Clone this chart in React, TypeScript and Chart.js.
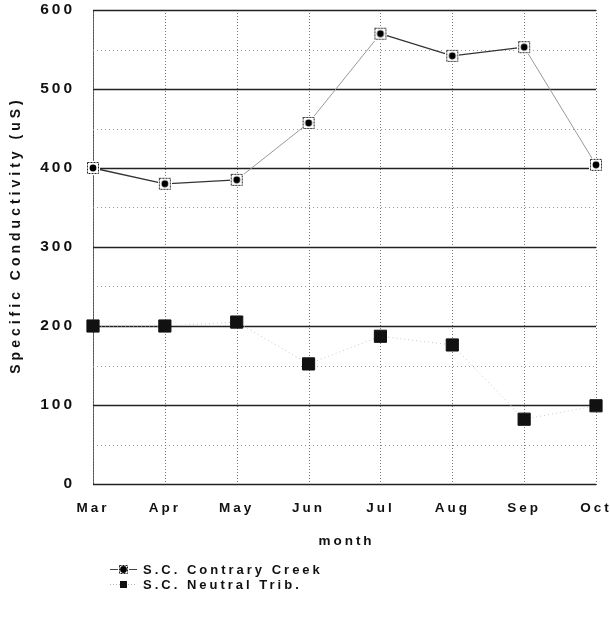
import React, { useEffect, useRef } from "react";
import { Chart, registerables } from "chart.js";

Chart.register(...registerables);

const months = ["Mar", "Apr", "May", "Jun", "Jul", "Aug", "Sep", "Oct"];
const contraryCreek = [400, 380, 385, 457, 570, 542, 553, 404];
const neutralTrib = [200, 200, 205, 152, 187, 176, 82, 99];
const yTicks = [0, 100, 200, 300, 400, 500, 600];
const seriesLabels = ["S.C. Contrary Creek", "S.C. Neutral Trib."];
const xTitle = "month";
const yTitle = "Specific Conductivity (uS)";

const FONT = "'Liberation Sans', Arial, sans-serif";

function makeOpenMarker(size: number): HTMLCanvasElement {
  const c = document.createElement("canvas");
  c.width = size;
  c.height = size;
  const g = c.getContext("2d")!;
  g.fillStyle = "#ffffff";
  g.fillRect(0, 0, size, size);
  g.strokeStyle = "#222";
  g.lineWidth = 1;
  g.setLineDash([2, 1]);
  g.strokeRect(1.5, 1.5, size - 3, size - 3);
  g.setLineDash([]);
  g.fillStyle = "#000";
  g.beginPath();
  g.arc(size / 2, size / 2, 3.4, 0, Math.PI * 2);
  g.fill();
  return c;
}

export default function App() {
  const ref = useRef<HTMLCanvasElement | null>(null);

  useEffect(() => {
    if (!ref.current) return;
    const openMarker = makeOpenMarker(14);
    const smallOpen = makeOpenMarker(11);

    const gridPlugin = {
      id: "customGrid",
      beforeDraw(chart: any) {
        chart.ctx.letterSpacing = "3px";
      },
      beforeDatasetsDraw(chart: any) {
        const ctx = chart.ctx;
        const { left, right, top, bottom } = chart.chartArea;
        const xs = chart.scales.x;
        const ys = chart.scales.y;
        ctx.save();
        ctx.strokeStyle = "#9a9a9a";
        ctx.lineWidth = 1;
        ctx.setLineDash([1, 3]);
        for (let v = 50; v < 600; v += 100) {
          const y = Math.round(ys.getPixelForValue(v)) + 0.5;
          ctx.beginPath();
          ctx.moveTo(left, y);
          ctx.lineTo(right, y);
          ctx.stroke();
        }
        ctx.strokeStyle = "#777";
        ctx.setLineDash([1, 2]);
        for (let i = 0; i < months.length; i++) {
          const x = Math.round(xs.getPixelForValue(i)) + 0.5;
          ctx.beginPath();
          ctx.moveTo(x, top);
          ctx.lineTo(x, bottom);
          ctx.stroke();
        }
        ctx.setLineDash([]);
        ctx.strokeStyle = "#222";
        ctx.lineWidth = 1.6;
        for (const v of yTicks) {
          const y = Math.round(ys.getPixelForValue(v)) + 0.5;
          ctx.beginPath();
          ctx.moveTo(left, y);
          ctx.lineTo(right, y);
          ctx.stroke();
        }
        ctx.restore();
      },
      afterDraw(chart: any) {
        const ctx = chart.ctx;
        const { left, right, top, bottom } = chart.chartArea;
        ctx.save();
        ctx.letterSpacing = "3px";
        ctx.fillStyle = "#111";
        ctx.font = `bold 13.5px ${FONT}`;
        ctx.textAlign = "center";
        ctx.textBaseline = "middle";
        ctx.fillText(xTitle, (left + right) / 2 + 2, 541);
        ctx.save();
        ctx.letterSpacing = "4px";
        ctx.font = `bold 14px ${FONT}`;
        ctx.translate(16, (top + bottom) / 2 - 12);
        ctx.rotate(-Math.PI / 2);
        ctx.fillText(yTitle, 0, 0);
        ctx.restore();
        ctx.textAlign = "left";
        ctx.font = `bold 13px ${FONT}`;
        ctx.fillText(seriesLabels[0], 143, 570);
        ctx.fillText(seriesLabels[1], 143, 585);
        ctx.letterSpacing = "0px";
        ctx.strokeStyle = "#444";
        ctx.lineWidth = 1;
        ctx.beginPath();
        ctx.moveTo(110, 569.5);
        ctx.lineTo(137, 569.5);
        ctx.stroke();
        ctx.drawImage(smallOpen, 118, 564);
        ctx.strokeStyle = "#bbb";
        ctx.setLineDash([1, 2]);
        ctx.beginPath();
        ctx.moveTo(110, 584.5);
        ctx.lineTo(137, 584.5);
        ctx.stroke();
        ctx.setLineDash([]);
        ctx.fillStyle = "#111";
        ctx.fillRect(120, 581, 7, 7);
        ctx.restore();
      },
    };

    const darkSeg = [true, true, false, false, true, true, false];
    const zeroPad = (s: any) => {
      s.paddingLeft = 0;
      s.paddingRight = 0;
      s.paddingTop = 0;
      s.paddingBottom = 0;
    };

    const chart = new Chart(ref.current, {
      type: "line",
      data: {
        labels: months,
        datasets: [
          {
            label: seriesLabels[1],
            data: neutralTrib,
            borderColor: "#c8c8c8",
            borderWidth: 1,
            borderDash: [1, 3],
            pointStyle: "rect",
            pointRadius: 8.6,
            pointBackgroundColor: "#111",
            pointBorderColor: "#111",
            pointBorderWidth: 1,
            tension: 0,
          },
          {
            label: seriesLabels[0],
            data: contraryCreek,
            borderColor: "#333",
            borderWidth: 1.2,
            segment: {
              borderColor: (ctx: any) => (darkSeg[ctx.p0DataIndex] ? "#333" : "#999"),
              borderWidth: (ctx: any) => (darkSeg[ctx.p0DataIndex] ? 1.3 : 1),
            },
            pointStyle: openMarker as any,
            pointRadius: 7,
            tension: 0,
          },
        ],
      },
      options: {
        responsive: false,
        animation: false,
        layout: { padding: { left: 0, top: 10, right: 14, bottom: 0 } },
        plugins: {
          legend: { display: false },
          tooltip: { enabled: false },
        },
        scales: {
          x: {
            type: "category",
            offset: false,
            grid: { display: false, drawTicks: false },
            border: { display: true, color: "#555", width: 1, dash: [1, 2] },
            ticks: {
              color: "#111",
              font: { family: FONT, size: 13.5, weight: "bold" },
              padding: 16,
              maxRotation: 0,
              autoSkip: false,
            },
            afterFit: (s: any) => {
              s.height = 143;
              zeroPad(s);
            },
          },
          y: {
            min: 0,
            max: 600,
            grid: { display: false, drawTicks: false },
            border: { display: true, color: "#555", width: 1, dash: [1, 2] },
            ticks: {
              stepSize: 100,
              color: "#111",
              font: { family: FONT, size: 15.5, weight: "bold" },
              padding: 18,
            },
            afterFit: (s: any) => {
              s.width = 93;
              zeroPad(s);
            },
          },
        },
      },
      plugins: [gridPlugin],
    } as any);

    return () => chart.destroy();
  }, []);

  return (
    <div style={{ position: "absolute", left: 0, top: 0, width: 610, height: 627, background: "#fff" }}>
      <canvas ref={ref} width={610} height={627} />
    </div>
  );
}
